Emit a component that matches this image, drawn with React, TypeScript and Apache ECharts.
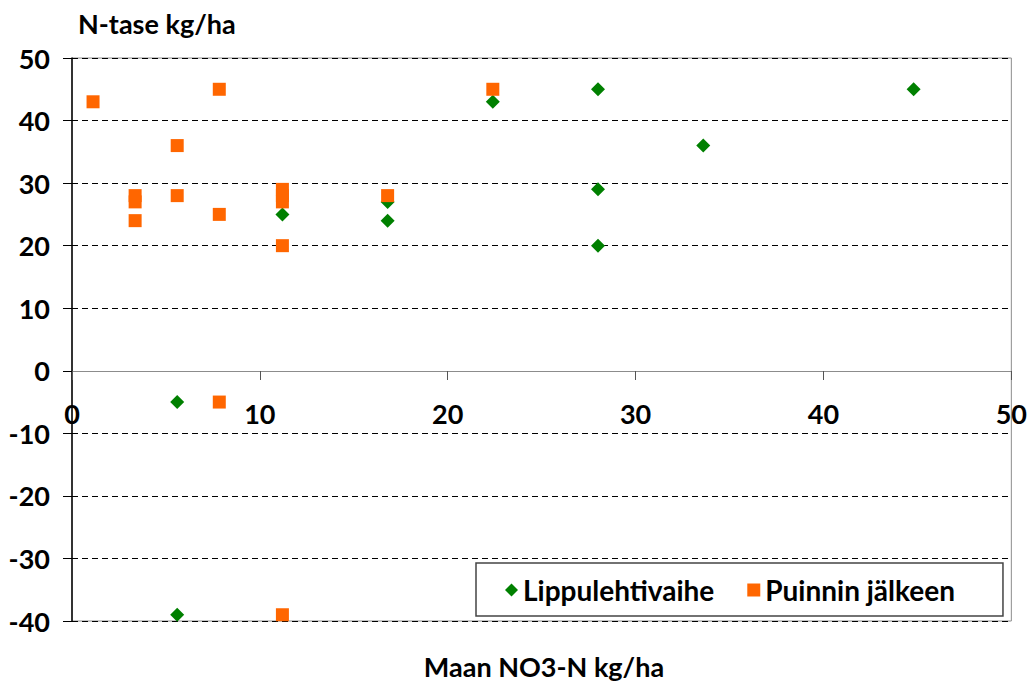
import React, { useEffect, useRef } from "react";
import * as echarts from "echarts";

const seriesNames = ["Lippulehtivaihe", "Puinnin jälkeen"];
const lippuX = [5.6, 5.6, 11.2, 16.8, 16.8, 22.4, 28, 28, 28, 33.6, 44.8];
const lippuY = [-5, -39, 25, 27, 24, 43, 45, 29, 20, 36, 45];
const puinX = [1.12, 3.36, 3.36, 3.36, 5.6, 5.6, 7.84, 7.84, 7.84, 11.2, 11.2, 11.2, 11.2, 11.2, 16.8, 22.4];
const puinY = [43, 28, 27, 24, 36, 28, 45, 25, -5, 29, 28, 27, 20, -39, 28, 45];
const yTitle = "N-tase kg/ha";
const xTitle = "Maan NO3-N kg/ha";

const FONT = "Lato, 'Open Sans', sans-serif";
const FS = 27;
const FW = "bold";

export default function App() {
  const ref = useRef<HTMLDivElement>(null);
  useEffect(() => {
    if (!ref.current) return;
    const chart = echarts.init(ref.current, null, { renderer: "svg" });
    const lippu = lippuX.map((x, i) => [x, lippuY[i]]);
    const puin = puinX.map((x, i) => [x, puinY[i]]);
    chart.setOption({
      animation: false,
      backgroundColor: "#ffffff",
      textStyle: { fontFamily: FONT },
      grid: {
        left: 72,
        right: 14,
        top: 58,
        bottom: 63,
        show: true,
        borderColor: "#8c8c8c",
        borderWidth: 1,
      },
      xAxis: {
        type: "value",
        min: 0,
        max: 50,
        interval: 10,
        position: "bottom",
        offset: -250,
        axisLine: { onZero: false, lineStyle: { color: "#8c8c8c", width: 1 } },
        axisTick: { show: true, inside: false, length: 9, lineStyle: { color: "#555" } },
        axisLabel: { margin: 29, color: "#000", fontSize: FS, fontWeight: FW, fontFamily: FONT },
        splitLine: { show: false },
      },
      yAxis: {
        type: "value",
        min: -40,
        max: 50,
        interval: 10,
        axisLine: { show: true, lineStyle: { color: "#000", width: 1.5 } },
        axisTick: { show: true, length: 9, lineStyle: { color: "#000" } },
        axisLabel: { margin: 22, color: "#000", fontSize: FS, fontWeight: FW, fontFamily: FONT },
        splitLine: { show: true, lineStyle: { color: "#000", type: [6, 4], width: 1 } },
      },
      legend: {
        left: 476,
        top: 563,
        orient: "horizontal",
        itemWidth: 13,
        itemHeight: 13,
        itemGap: 33,
        padding: [13, 48, 12, 29],
        borderColor: "#444",
        borderWidth: 1.5,
        backgroundColor: "#fff",
        textStyle: { fontSize: 28, fontWeight: FW, color: "#000", fontFamily: FONT },
        data: [
          { name: seriesNames[0], icon: "diamond" },
          { name: seriesNames[1], icon: "rect" },
        ],
      },
      graphic: [
        {
          type: "text",
          x: 78,
          y: 23,
          style: { text: yTitle, fontSize: FS, fontWeight: FW, fill: "#000", fontFamily: FONT, textVerticalAlign: "middle" },
        },
        {
          type: "text",
          x: 544,
          y: 666,
          style: { text: xTitle, fontSize: FS, fontWeight: FW, fill: "#000", fontFamily: FONT, textAlign: "center", textVerticalAlign: "middle" },
        },
      ],
      series: [
        {
          name: seriesNames[0],
          type: "scatter",
          symbol: "diamond",
          symbolSize: 14,
          itemStyle: { color: "#008000", opacity: 1 },
          data: lippu,
          z: 2,
        },
        {
          name: seriesNames[1],
          type: "scatter",
          symbol: "rect",
          symbolSize: 13,
          itemStyle: { color: "#ff6600", opacity: 1 },
          data: puin,
          z: 3,
        },
      ],
    });
    return () => chart.dispose();
  }, []);
  return (
    <div
      ref={ref}
      style={{ position: "fixed", left: 0, top: 0, width: 1030, height: 684, background: "#fff" }}
    />
  );
}
